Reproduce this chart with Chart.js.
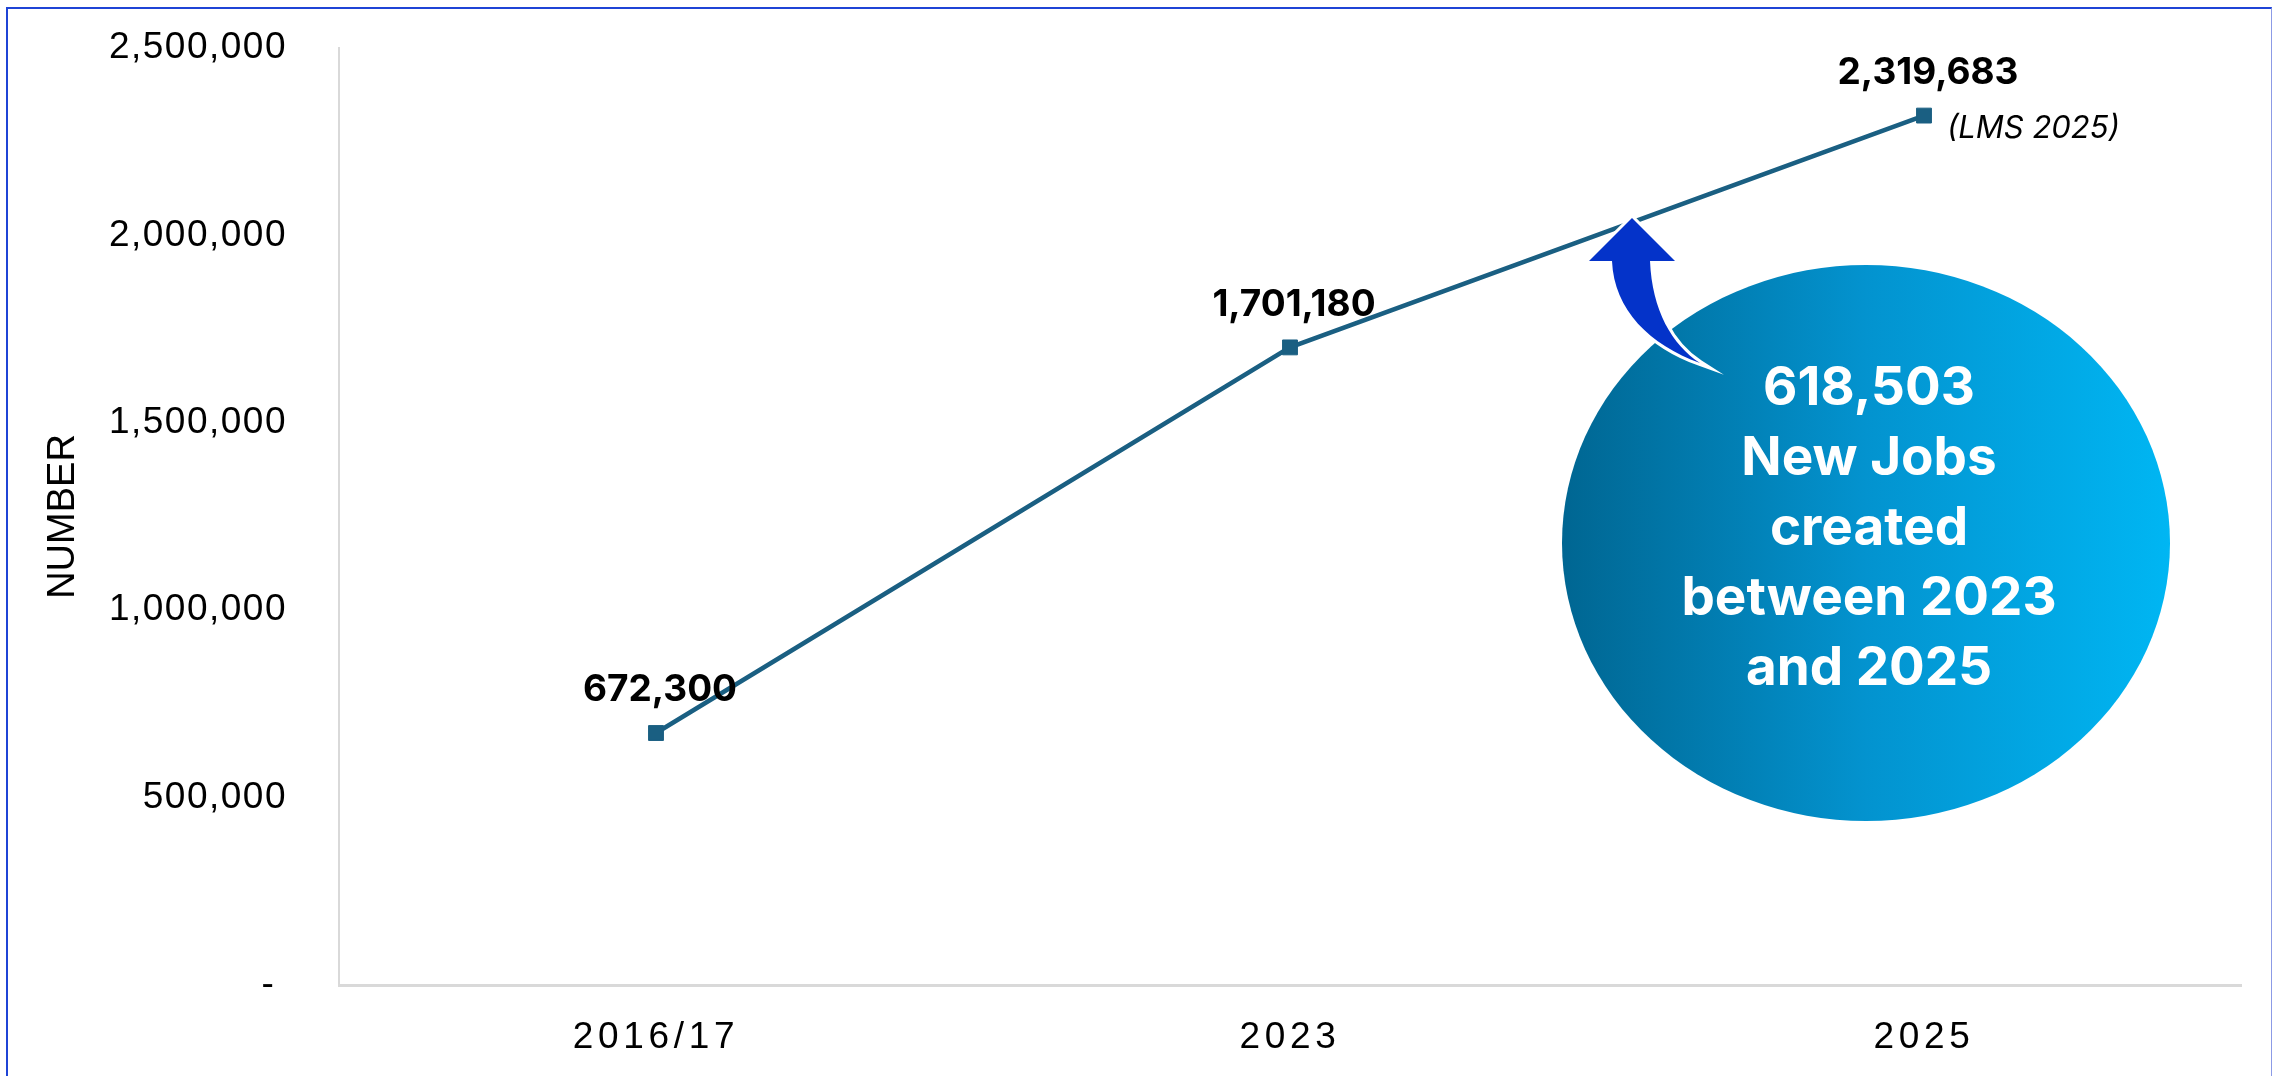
<!DOCTYPE html>
<html><head><meta charset="utf-8">
<script src="https://cdn.jsdelivr.net/npm/chart.js@4.4.1/dist/chart.umd.min.js"></script>
<style>
html,body{margin:0;padding:0;background:#fff;overflow:hidden}
#wrap{position:relative;width:2272px;height:1076px}
#frame{position:absolute;left:6px;top:7px;width:2266px;height:1100px;border-left:2px solid #1f44d6;border-top:2px solid #1f44d6;border-right:1px solid #8c9be6;box-sizing:border-box;pointer-events:none}
canvas{position:absolute;left:0;top:0}
</style></head>
<body><div id="wrap"><canvas id="c" width="2272" height="1076"></canvas><div id="frame"></div></div>
<script>
// ---- data ----
const categories = ['2016/17', '2023', '2025'];
const jobs = [672300, 1701180, 2319683];
const pointNotes = ['', '', '(LMS 2025)'];
const yTicks = [0, 500000, 1000000, 1500000, 2000000, 2500000];
const yTitle = 'NUMBER';
const calloutLines = ['618,503', 'New Jobs', 'created', 'between 2023', 'and 2025'];

const LINE_COLOR = '#1a5f82';

const spacingPlugin = {
  id: 'spacing',
  beforeDraw(chart) {
    [['x', '4.7px'], ['y', '1.5px']].forEach(([id, sp]) => {
      const s = chart.scales[id];
      if (s && !s.__wrapped) {
        const orig = s.drawLabels;
        s.drawLabels = function (a) {
          const c = this.ctx; c.save(); c.letterSpacing = sp; orig.call(this, a); c.restore();
        };
        s.__wrapped = true;
      }
    });
  }
};

const labelPlugin = {
  id: 'pointLabels',
  afterDatasetsDraw(chart) {
    const ctx = chart.ctx;
    const meta = chart.getDatasetMeta(0);
    meta.data.forEach((pt, i) => {
      ctx.save();
      ctx.fillStyle = '#000';
      ctx.font = 'bold 37px Inter, "Liberation Sans", sans-serif';
      ctx.textAlign = 'center';
      ctx.textBaseline = 'middle';
      ctx.fillText(jobs[i].toLocaleString('en-US'), pt.x + 4, pt.y - 43);
      if (pointNotes[i]) {
        ctx.font = 'italic 31px Inter, "Liberation Sans", sans-serif';
        ctx.textAlign = 'left';
        ctx.fillText(pointNotes[i], pt.x + 23, pt.y + 13);
      }
      ctx.restore();
    });
  }
};

const calloutPlugin = {
  id: 'callout',
  afterDraw(chart) {
    const ctx = chart.ctx;
    ctx.save();
    // ellipse
    const cx = 1866, cy = 543, rx = 304, ry = 278;
    const g = ctx.createLinearGradient(cx - rx, 0, cx + rx, 0);
    g.addColorStop(0, '#006692');
    g.addColorStop(0.5, '#0393cf');
    g.addColorStop(1, '#00b6f3');
    ctx.beginPath();
    ctx.ellipse(cx, cy, rx, ry, 0, 0, Math.PI * 2);
    ctx.fillStyle = g;
    ctx.fill();
    // text
    ctx.fillStyle = '#fff';
    ctx.font = 'bold 53px Inter, "Liberation Sans", sans-serif';
    ctx.textAlign = 'center';
    ctx.textBaseline = 'middle';
    calloutLines.forEach((t, i) => ctx.fillText(t, 1869, 389 + i * 70));
    // arrow
    const arrow = () => {
      ctx.beginPath();
      ctx.moveTo(1632, 218);
      ctx.lineTo(1675, 261);
      ctx.lineTo(1650, 261);
      ctx.bezierCurveTo(1652, 310, 1672, 345, 1700, 363);
      ctx.bezierCurveTo(1650, 345, 1614, 310, 1612, 261);
      ctx.lineTo(1589, 261);
      ctx.closePath();
    };
    ctx.fillStyle = '#0433c9';
    arrow(); ctx.fill();
    ctx.strokeStyle = '#fff'; ctx.lineWidth = 6; ctx.lineJoin = 'miter';
    arrow(); ctx.stroke();
    arrow(); ctx.fill();
    ctx.restore();
  }
};

new Chart(document.getElementById('c'), {
  type: 'line',
  data: {
    labels: categories,
    datasets: [{
      data: jobs,
      borderColor: LINE_COLOR,
      backgroundColor: LINE_COLOR,
      borderWidth: 4.5,
      pointStyle: 'rect',
      pointRadius: 10.5,
      pointBorderWidth: 1,
      pointBorderColor: LINE_COLOR,
      pointBackgroundColor: LINE_COLOR,
      tension: 0,
      fill: false
    }]
  },
  options: {
    responsive: false,
    devicePixelRatio: 1,
    animation: false,
    events: [],
    layout: { padding: { left: 20, top: 48, right: 31, bottom: 0 } },
    plugins: { legend: { display: false }, tooltip: { enabled: false } },
    scales: {
      x: {
        offset: true,
        grid: { display: false, drawTicks: false },
        border: { display: true, color: '#d9d9d9', width: 3 },
        ticks: { padding: 31, color: '#000', font: { family: '"Liberation Sans", Arial, sans-serif', size: 37 } },
        afterFit: s => { s.height = 91; }
      },
      y: {
        min: 0, max: 2500000,
        afterBuildTicks: s => { s.ticks = yTicks.map(v => ({ value: v })); },
        grid: { display: true, drawOnChartArea: false, drawTicks: true, tickLength: 52, color: 'rgba(0,0,0,0)' },
        border: { display: true, color: '#d9d9d9', width: 2 },
        ticks: {
          padding: 0, color: '#000',
          font: { family: '"Liberation Sans", Arial, sans-serif', size: 37 },
          callback: v => v === 0 ? '- ' : Number(v).toLocaleString('en-US')
        },
        title: {
          display: true, text: yTitle, color: '#000',
          font: { family: '"Liberation Sans", Arial, sans-serif', size: 38 },
          padding: { top: 21, bottom: 0 }
        },
        afterFit: s => { s.width = 319; }
      }
    }
  },
  plugins: [spacingPlugin, labelPlugin, calloutPlugin]
});
</script>
</body></html>
